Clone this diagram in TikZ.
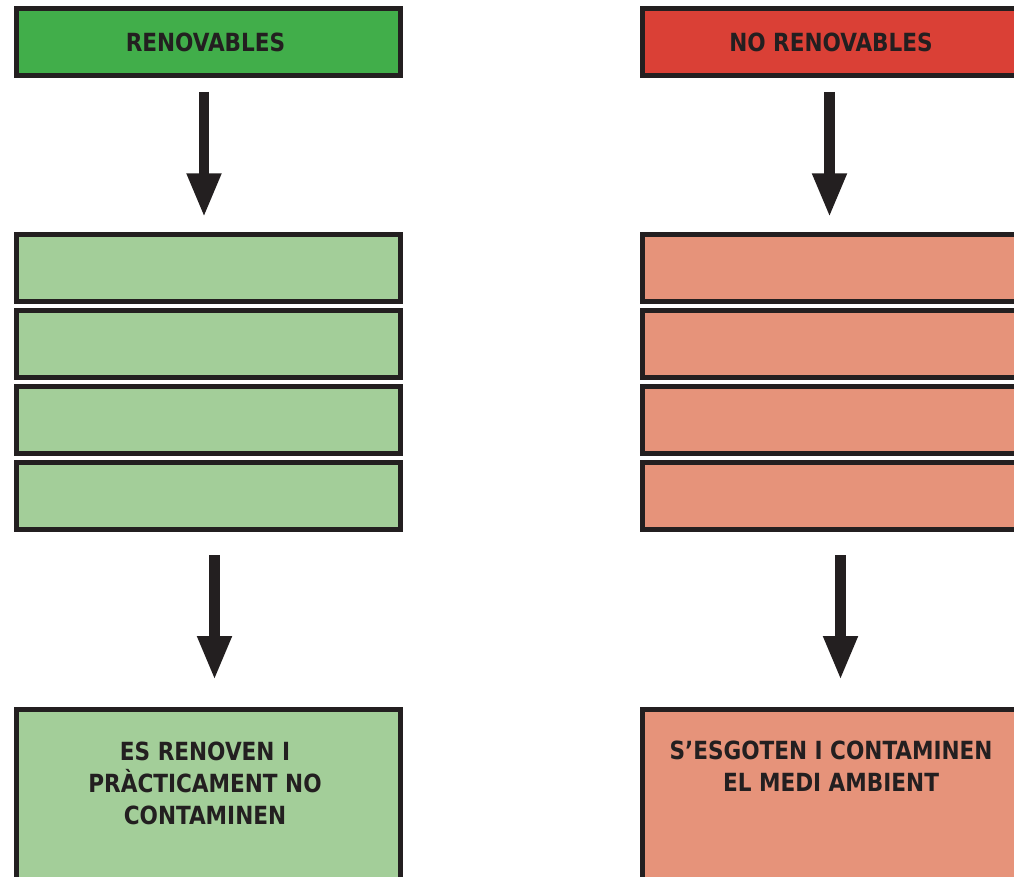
\documentclass[tikz,border=0pt]{standalone}
\usepackage{fontspec}
\newfontfamily\labfont[FakeStretch=0.96]{DejaVu Sans Condensed}
\usetikzlibrary{arrows.meta}
\definecolor{ink}{HTML}{231F20}
\definecolor{gdark}{HTML}{41AE4A}
\definecolor{glight}{HTML}{A3CE99}
\definecolor{rdark}{HTML}{DA4036}
\definecolor{rlight}{HTML}{E6937A}
\tikzset{
  box/.style={draw=ink, line width=5pt, minimum width=384pt, minimum height=67pt,
    inner sep=0pt, outer sep=0pt, text=ink, font=\labfont\bfseries\fontsize{25}{32}\selectfont},
  bigbox/.style={draw=ink, line width=5pt, minimum width=384pt, minimum height=300pt,
    inner sep=0pt, outer sep=0pt, anchor=north},
  txt/.style={text=ink, align=center, inner sep=0pt, font=\labfont\bfseries\fontsize{25}{32}\selectfont},
  arr/.style={draw=ink, line width=10.5pt, -{Triangle[width=32pt,length=44pt]}}
}
\begin{document}
\begin{tikzpicture}[x=1pt,y=-1pt]
\clip (0,0) rectangle (1014,877);
\fill[white] (0,0) rectangle (1014,877);
% left column
\node[box, fill=gdark] (L0) at (208.5,42) {};
\node[txt] (LT0) at (205.5,42) {RENOVABLES};
\node[box, fill=glight] (L1) at (208.5,268.3) {};
\node[box, fill=glight] (L2) at (208.5,344.3) {};
\node[box, fill=glight] (L3) at (208.5,420.3) {};
\node[box, fill=glight] (L4) at (208.5,496.3) {};
\node[bigbox, fill=glight] (L5) at (208.5,709.5) {};
\node[txt] (LT) at (205,783) {ES RENOVEN I\\PRÀCTICAMENT NO\\CONTAMINEN};
% right column
\node[box, fill=rdark] (R0) at (834.5,42) {};
\node[txt] (RT0) at (831,42) {NO RENOVABLES};
\node[box, fill=rlight] (R1) at (834.5,268.3) {};
\node[box, fill=rlight] (R2) at (834.5,344.3) {};
\node[box, fill=rlight] (R3) at (834.5,420.3) {};
\node[box, fill=rlight] (R4) at (834.5,496.3) {};
\node[bigbox, fill=rlight] (R5) at (834.5,709.5) {};
\node[txt] (RT) at (831,766.5) {S’ESGOTEN I CONTAMINEN\\EL MEDI AMBIENT};
% arrows
\draw[arr, shorten <=16.5pt, shorten >=17.5pt] ([xshift=-4.5pt]L0.south) -- ([xshift=-4.5pt]L1.north);
\draw[arr, shorten <=25.5pt, shorten >=29.5pt] ([xshift=6pt]L4.south) -- ([xshift=6pt]L5.north);
\draw[arr, shorten <=16.5pt, shorten >=17.5pt] ([xshift=-5pt]R0.south) -- ([xshift=-5pt]R1.north);
\draw[arr, shorten <=25.5pt, shorten >=29.5pt] ([xshift=6pt]R4.south) -- ([xshift=6pt]R5.north);
\end{tikzpicture}
\end{document}
